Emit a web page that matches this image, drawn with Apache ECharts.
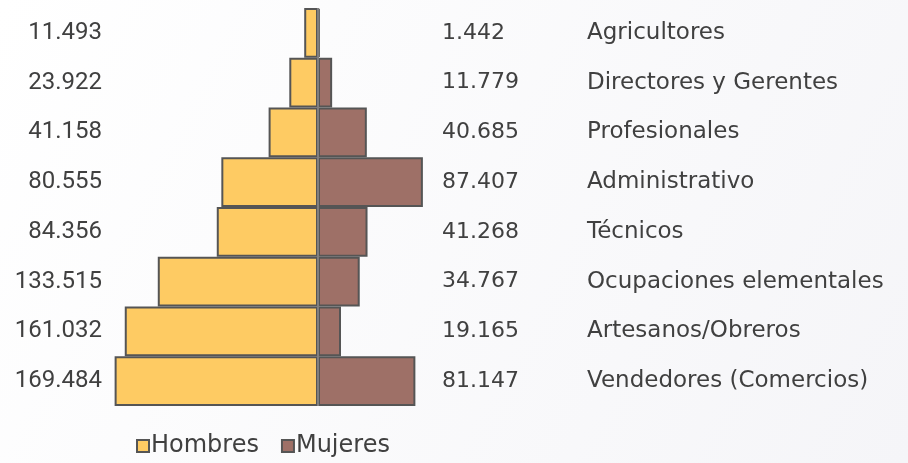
<!DOCTYPE html>
<html>
<head>
<meta charset="utf-8">
<script src="https://cdn.jsdelivr.net/npm/echarts@6/dist/echarts.min.js"></script>
<style>
  html, body { margin: 0; padding: 0; }
  #chart { width: 908px; height: 463px; }
</style>
</head>
<body>
<div id="chart"></div>
<script>
// ocupaciones (de arriba a abajo)
const categories = ['Agricultores', 'Directores y Gerentes', 'Profesionales', 'Administrativo', 'Técnicos', 'Ocupaciones elementales', 'Artesanos/Obreros', 'Vendedores (Comercios)'];
// miles de personas
const hombres = [11.493, 23.922, 41.158, 80.555, 84.356, 133.515, 161.032, 169.484];
const mujeres = [1.442, 11.779, 40.685, 87.407, 41.268, 34.767, 19.165, 81.147];
const hombresLabels = ['11.493', '23.922', '41.158', '80.555', '84.356', '133.515', '161.032', '169.484'];
const mujeresLabels = ['1.442', '11.779', '40.685', '87.407', '41.268', '34.767', '19.165', '81.147'];

const textColor = '#404040';
const borderColor = '#555555';
const yellow = '#FECB63';
const brown = '#9E7067';
const wideFont = 'DejaVu Sans';

const chart = echarts.init(document.getElementById('chart'));

const option = {
  backgroundColor: new echarts.graphic.LinearGradient(0, 0, 1, 1, [
    { offset: 0, color: '#ffffff' },
    { offset: 1, color: '#f5f5f8' },
  ]),
  animation: false,
  legend: {
    left: 131,
    bottom: 0,
    icon: 'rect',
    itemWidth: 12,
    itemHeight: 12,
    itemGap: 22,
    textStyle: {
      color: textColor,
      fontSize: 24,
      fontFamily: wideFont,
      padding: [0, 0, 0, -3],
    },
    data: ['Hombres', 'Mujeres'],
  },
  grid: {
    left: 108,
    width: 328,
    top: 8,
    height: 398,
  },
  xAxis: {
    type: 'value',
    min: -175,
    max: 98.33,
    show: false,
  },
  yAxis: [
    {
      type: 'category',
      inverse: true,
      position: 'left',
      data: categories,
      axisLine: { show: false },
      axisTick: { show: false },
      axisLabel: {
        margin: 6,
        color: textColor,
        fontSize: 24,
        fontFamily: 'Roboto',
        padding: [6, 0, 0, 0],
        formatter: (v, i) => hombresLabels[i],
      },
    },
    {
      type: 'category',
      inverse: true,
      position: 'right',
      data: categories,
      axisLine: { show: false },
      axisTick: { show: false },
      axisLabel: {
        margin: 6,
        formatter: (v, i) => '{v|' + mujeresLabels[i] + '}{c|' + v + '}',
        rich: {
          v: { width: 145, color: textColor, fontSize: 22, fontFamily: wideFont },
          c: { color: textColor, fontSize: 23, fontFamily: wideFont },
        },
      },
    },
  ],
  series: [
    {
      name: 'Hombres',
      type: 'bar',
      data: hombres.map((v) => -v),
      barCategoryGap: 0,
      barGap: '-100%',
      itemStyle: { color: yellow, borderColor: borderColor, borderWidth: 2 },
    },
    {
      name: 'Mujeres',
      type: 'bar',
      data: mujeres,
      barCategoryGap: 0,
      itemStyle: { color: brown, borderColor: borderColor, borderWidth: 2 },
      markLine: {
        silent: true,
        symbol: 'none',
        label: { show: false },
        lineStyle: { color: '#7f7f7f', width: 2, type: 'solid' },
        data: [{ xAxis: 0 }],
      },
    },
  ],
};

chart.setOption(option);
</script>
</body>
</html>
